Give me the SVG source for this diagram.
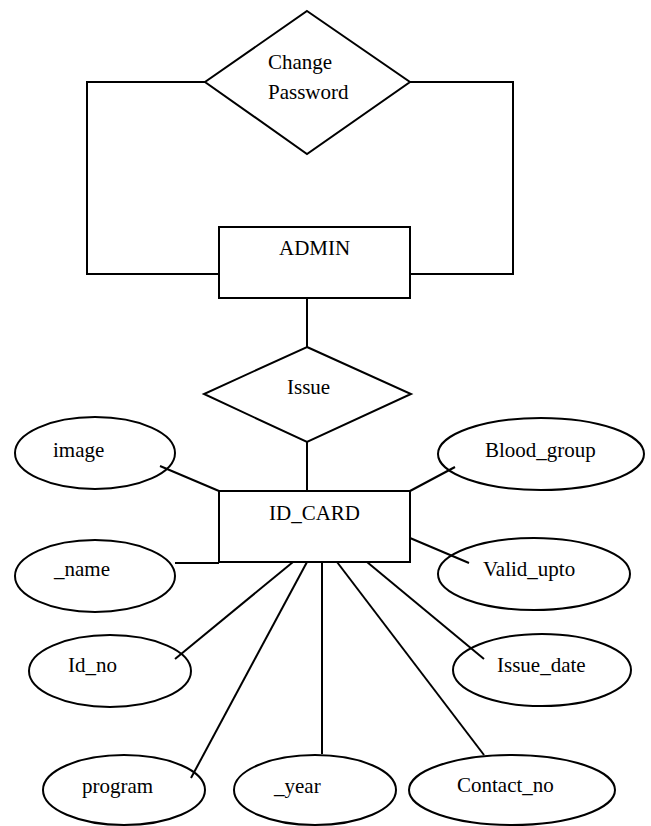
<svg xmlns="http://www.w3.org/2000/svg" width="651" height="826" viewBox="0 0 651 826">
<style>
.s{fill:#fff;stroke:#000;stroke-width:2}
.c{fill:none;stroke:#000;stroke-width:2}
.t{font-family:'Liberation Serif','Times New Roman',Times,serif;font-size:21px;fill:#000}
</style>
<rect width="651" height="826" fill="#fff"/>
<g id="connectors">
<polyline class="c" points="205,82 87,82 87,274 219,274"/>
<polyline class="c" points="410,82 513,82 513,274 410,274"/>
<line class="c" x1="307" y1="298" x2="307" y2="347"/>
<line class="c" x1="307" y1="442" x2="307" y2="491"/>
<line class="c" x1="160" y1="466" x2="219" y2="491"/>
<line class="c" x1="175" y1="563" x2="219" y2="563"/>
<line class="c" x1="293" y1="562" x2="175" y2="659"/>
<line class="c" x1="307" y1="562" x2="191" y2="778"/>
<line class="c" x1="322" y1="562" x2="322" y2="754"/>
<line class="c" x1="337" y1="562" x2="484" y2="755"/>
<line class="c" x1="367" y1="562" x2="484" y2="659"/>
<line class="c" x1="410" y1="538" x2="469" y2="563"/>
<line class="c" x1="410" y1="491" x2="455" y2="467"/>
</g>
<g class="t" font-family="Liberation Serif, Times New Roman, serif" font-size="21">
<g id="change_password">
<polygon class="s" points="307,11 410,82 307,154 205,82"/>
<text x="268" y="69">Change</text>
<text x="268" y="99">Password</text>
</g>
<g id="admin">
<rect class="s" x="219" y="227" width="191" height="71"/>
<text x="279" y="255">ADMIN</text>
</g>
<g id="issue">
<polygon class="s" points="307,347 411,394 307,442 204,394"/>
<text x="287" y="394">Issue</text>
</g>
<g id="id_card">
<rect class="s" x="219" y="491" width="191" height="71"/>
<text x="269" y="520">ID_CARD</text>
</g>
<g id="image">
<ellipse class="c" cx="95" cy="453" rx="80" ry="36"/>
<text x="53" y="457">image</text>
</g>
<g id="name">
<ellipse class="c" cx="95" cy="576" rx="80" ry="36"/>
<text x="54" y="576">_name</text>
</g>
<g id="id_no">
<ellipse class="c" cx="110" cy="671" rx="81" ry="36"/>
<text x="68" y="672">Id_no</text>
</g>
<g id="program">
<ellipse class="c" cx="124" cy="790" rx="81" ry="35"/>
<text x="82" y="793">program</text>
</g>
<g id="year">
<ellipse class="c" cx="315" cy="790" rx="81" ry="35"/>
<text x="274" y="793">_year</text>
</g>
<g id="contact_no">
<ellipse class="c" cx="512" cy="790" rx="103" ry="35"/>
<text x="457" y="792">Contact_no</text>
</g>
<g id="issue_date">
<ellipse class="c" cx="542" cy="670" rx="89" ry="36"/>
<text x="497" y="672">Issue_date</text>
</g>
<g id="valid_upto">
<ellipse class="c" cx="534" cy="574" rx="96" ry="36"/>
<text x="483" y="576">Valid_upto</text>
</g>
<g id="blood_group">
<ellipse class="c" cx="541" cy="454" rx="103" ry="36"/>
<text x="485" y="457">Blood_group</text>
</g>
</g>
</svg>
